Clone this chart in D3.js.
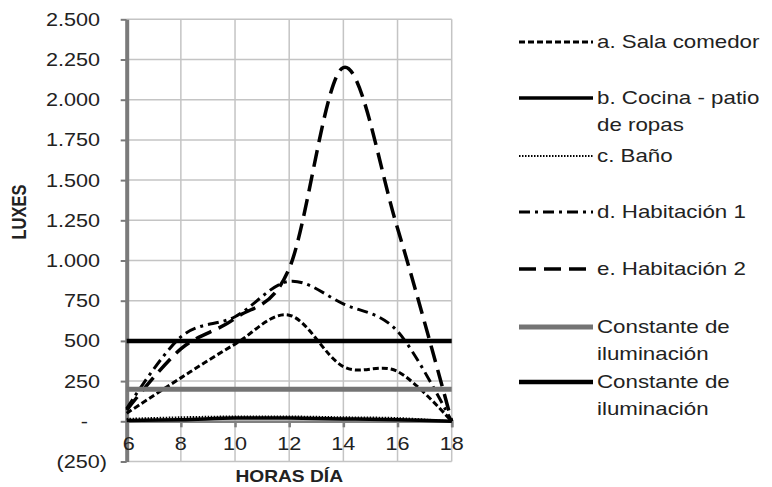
<!DOCTYPE html>
<html>
<head>
<meta charset="utf-8">
<script src="https://cdn.jsdelivr.net/npm/d3@7"></script>
<style>
  body { margin: 0; background: #fff; }
  text { font-family: "Liberation Sans", Arial, sans-serif; fill: #222; }
</style>
</head>
<body>
<svg id="chart" width="772" height="487"></svg>
<script>
// Iluminancia medida por espacio a lo largo del día (luxes)
const hours        = [6, 8, 10, 12, 14, 16, 18];
const salaComedor  = [50, 270, 480, 660, 340, 310, 0];
const cocinaPatio  = [5, 10, 20, 20, 15, 10, 0];
const bano         = [15, 25, 30, 30, 25, 20, 0];
const habitacion1  = [80, 525, 650, 870, 730, 560, 0];
const habitacion2  = [70, 450, 640, 950, 2200, 1200, 0];
const constanteGris  = 200;
const constanteNegra = 500;

const yTicks      = [-250, 0, 250, 500, 750, 1000, 1250, 1500, 1750, 2000, 2250, 2500];
const yTickLabels = ["(250)", "-", "250", "500", "750", "1.000", "1.250", "1.500", "1.750", "2.000", "2.250", "2.500"];
const xTicks      = [6, 8, 10, 12, 14, 16, 18];

const seriesNames = [
  ["a. Sala comedor"],
  ["b. Cocina - patio", "de ropas"],
  ["c. Baño"],
  ["d. Habitación 1"],
  ["e. Habitación 2"],
  ["Constante de", "iluminación"],
  ["Constante de", "iluminación"]
];

const svg = d3.select("#chart");
const SX = 1.2; // horizontal text stretch

const x = d3.scaleLinear().domain([6, 18]).range([126.7, 451.7]);
const y = d3.scaleLinear().domain([-250, 2500]).range([461.5, 19.3]);

// gridlines
const grid = svg.append("g").attr("stroke", "#c4c4c4").attr("stroke-width", 1.5);
grid.selectAll("line.h").data(yTicks).join("line")
  .attr("x1", x(6)).attr("x2", x(18))
  .attr("y1", d => y(d)).attr("y2", d => y(d));
grid.selectAll("line.v").data(xTicks.slice(1)).join("line")
  .attr("x1", d => x(d)).attr("x2", d => x(d))
  .attr("y1", y(-250)).attr("y2", y(2500));

// x axis at zero
const xAxis = d3.axisBottom(x).tickValues(xTicks).tickSize(6).tickFormat("");
svg.append("g").attr("transform", `translate(0,${y(0)})`).call(xAxis)
  .call(g => g.selectAll("line,path").attr("stroke", "#808080").attr("stroke-width", 2.5));

// y axis
const yAxis = d3.axisLeft(y).tickValues(yTicks).tickSize(6).tickSizeOuter(0).tickFormat("");
svg.append("g").attr("transform", `translate(${x(6)},0)`).call(yAxis)
  .call(g => g.select("path").attr("stroke", "#7a7a7a").attr("stroke-width", 4))
  .call(g => g.selectAll("line").attr("stroke", "#7a7a7a").attr("stroke-width", 2));

// y tick labels (accounting style alignment)
svg.append("g").selectAll("text").data(yTicks).join("text")
  .attr("transform", (d, i) => {
    const lab = yTickLabels[i];
    const xe = lab.startsWith("(") ? 107 : (lab === "-" ? 88 : 100);
    return `translate(${xe},${y(d)}) scale(${SX},1)`;
  })
  .attr("text-anchor", "end").attr("dy", "0.36em")
  .style("font-size", "18px")
  .text((d, i) => yTickLabels[i]);

// x tick labels
svg.append("g").selectAll("text").data(xTicks).join("text")
  .attr("transform", d => `translate(${x(d) + (d === 6 ? 2 : 0)},${y(0) + 29}) scale(${SX},1)`)
  .attr("text-anchor", "middle")
  .style("font-size", "18px")
  .text(d => d);

// axis titles
svg.append("text")
  .attr("transform", `translate(${x(12)},482) scale(${SX},1)`)
  .attr("text-anchor", "middle")
  .style("font-size", "16px").style("font-weight", "bold")
  .text("HORAS DÍA");
svg.append("text")
  .attr("transform", `translate(26,212) rotate(-90) scale(1,${SX})`)
  .attr("text-anchor", "middle")
  .style("font-size", "16.5px").style("font-weight", "bold")
  .text("LUXES");

// series
const styles = [
  { w: 3,   dash: "6,3",        color: "#000" },
  { w: 3.5, dash: null,         color: "#000" },
  { w: 2,   dash: "1.5,1.5",    color: "#000" },
  { w: 3,   dash: "11,5,3,5",   color: "#000" },
  { w: 3.5, dash: "17,8",       color: "#000" },
  { w: 5,   dash: null,         color: "#747474" },
  { w: 4.5, dash: null,         color: "#000" }
];

const seriesValues = [
  salaComedor, cocinaPatio, bano, habitacion1, habitacion2,
  hours.map(() => constanteGris), hours.map(() => constanteNegra)
];

const line = d3.line()
  .x((d, i) => x(hours[i]))
  .y(d => y(d))
  .curve(d3.curveCardinal.tension(0));

const plot = svg.append("g").attr("fill", "none");
seriesValues.forEach((vals, k) => {
  const s = styles[k];
  plot.append("path")
    .attr("d", k >= 5 ? d3.line().x((d, i) => x(hours[i])).y(d => y(d))(vals) : line(vals))
    .attr("stroke", s.color)
    .attr("stroke-width", s.w)
    .attr("stroke-dasharray", s.dash)
    .attr("stroke-linejoin", "round");
});

// legend
const legendY = [42, 98, 156, 212, 269, 327, 382];
const legend = svg.append("g");
seriesNames.forEach((lines, k) => {
  const s = styles[k];
  const ly = legendY[k];
  legend.append("line")
    .attr("x1", 519).attr("x2", 593).attr("y1", ly).attr("y2", ly)
    .attr("stroke", s.color).attr("stroke-width", s.w)
    .attr("stroke-dasharray", s.dash);
  lines.forEach((t, j) => {
    legend.append("text")
      .attr("transform", `translate(597,${ly + j * 27}) scale(1.24,1)`)
      .attr("dy", "0.36em")
      .style("font-size", "18px")
      .text(t);
  });
});
</script>
</body>
</html>
